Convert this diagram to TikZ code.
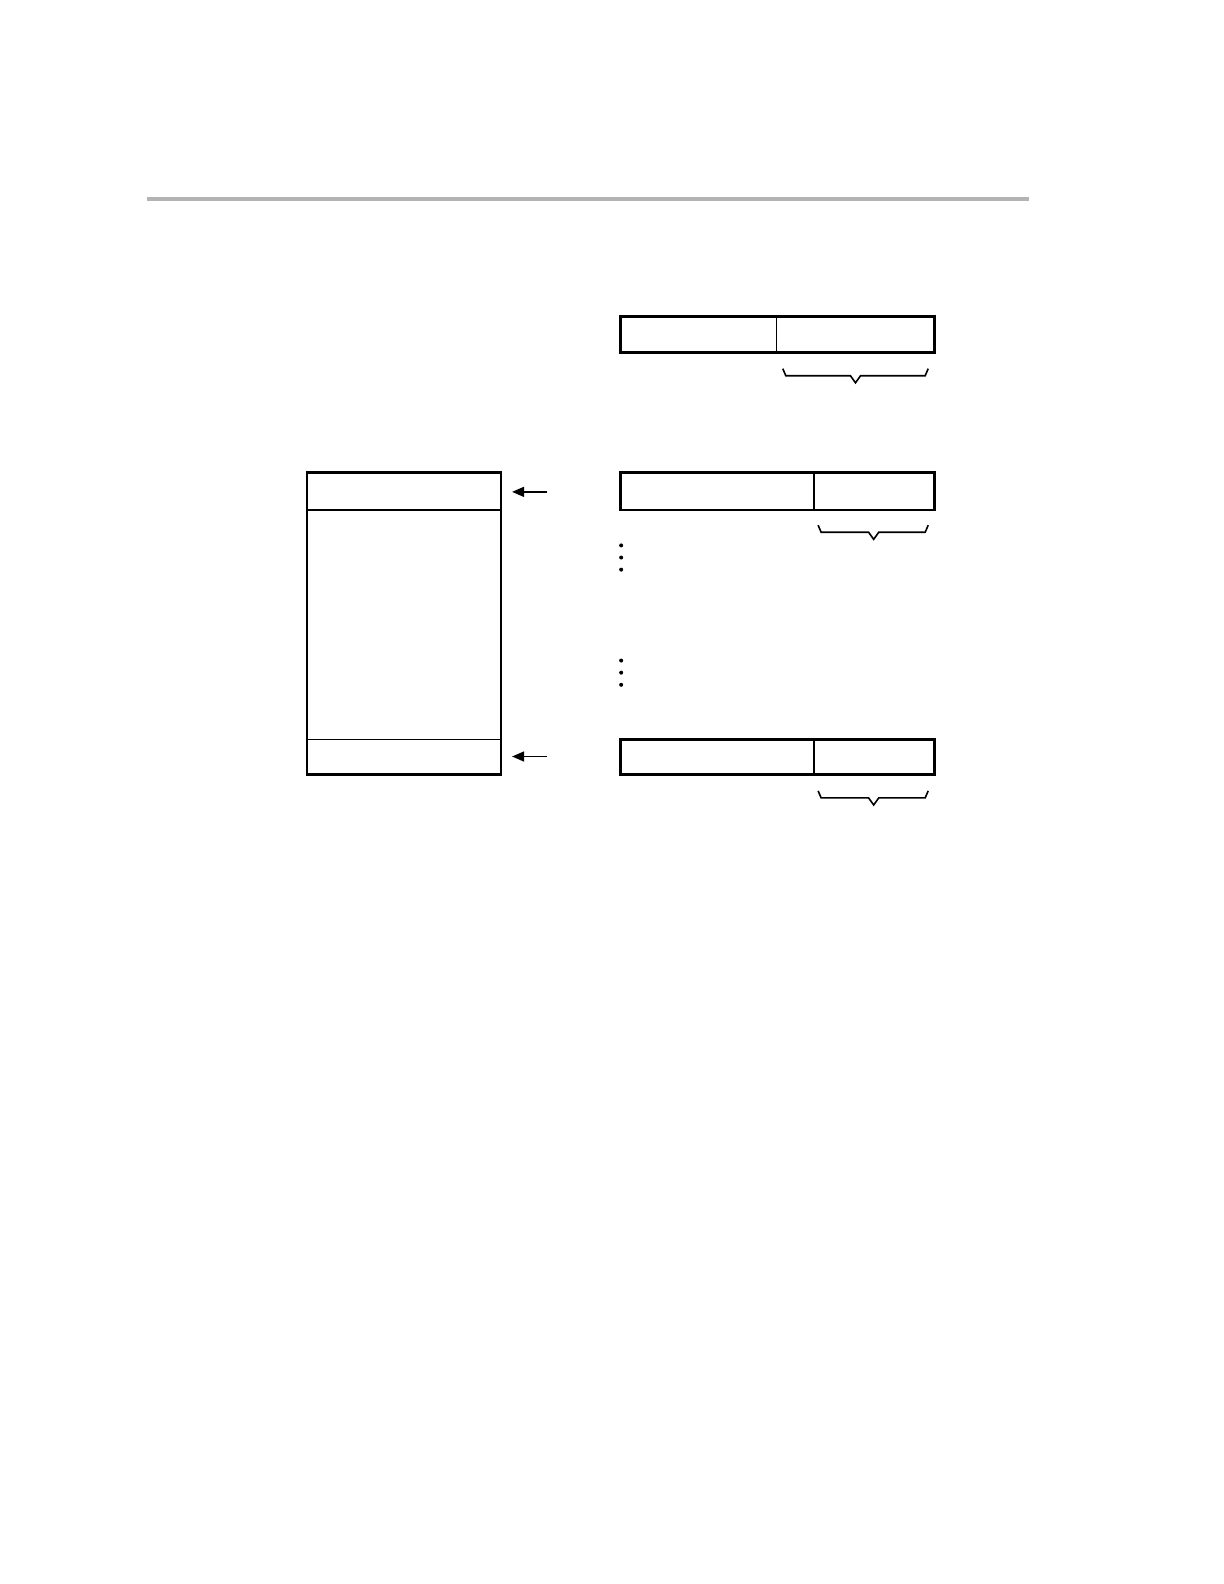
\documentclass[tikz,border=0pt]{standalone}
\usepackage{tikz}
\usetikzlibrary{arrows.meta}
\definecolor{rulegray}{HTML}{B3B3B3}
\tikzset{
  frame/.style={draw=black, line width=1.4pt},
  divide/.style={draw=black, line width=0.75pt},
  brace/.style={draw=black, line width=0.8pt, line join=miter},
  pointer/.style={draw=black, line width=0.75pt, -{Triangle[length=6pt,width=5pt]}},
  dotmark/.style={fill=black},
}
\begin{document}
\begin{tikzpicture}[x=0.505pt, y=-0.505pt]
\useasboundingbox (0pt,0pt) rectangle (612pt,-792pt);
% header rule
\draw[draw=rulegray, line width=2pt] (146,197) -- (1019,197);
% stack
\coordinate (stackTL) at (304,468);
\coordinate (stackBR) at (496,767);
\draw[frame] (stackTL) rectangle (stackBR);
\draw[divide] (304,505) -- (496,505);
\draw[divide] (304,732) -- (496,732);
% pointers into the stack
\coordinate (topTail) at (542,487);
\coordinate (topTip) at (507,487);
\coordinate (botTail) at (542,749);
\coordinate (botTip) at (507,749);
\draw[pointer] (topTail) -- (topTip);
\draw[pointer] (botTail) -- (botTip);
% records
\foreach \t/\b/\d in {313/349/769, 468/505/806, 732/767/806}{
  \draw[frame] (614,\t) rectangle (925,\b);
  \draw[divide] (\d,\t) -- (\d,\b);
}
% braces under the fields
\foreach \y/\l/\m/\r in {365/775/847/919, 520/810/865/919, 783/810/865/919}{
  \draw[brace] (\l,\y) -- (\l+3,\y+7) -- (\m-5,\y+7) -- (\m,\y+14)
    -- (\m+5,\y+7) -- (\r-3,\y+7) -- (\r,\y);
}
% vertical ellipsis
\foreach \y in {540,552,564,654,666,678}
  \fill[dotmark] (615,\y) circle (1pt);
\end{tikzpicture}
\end{document}
